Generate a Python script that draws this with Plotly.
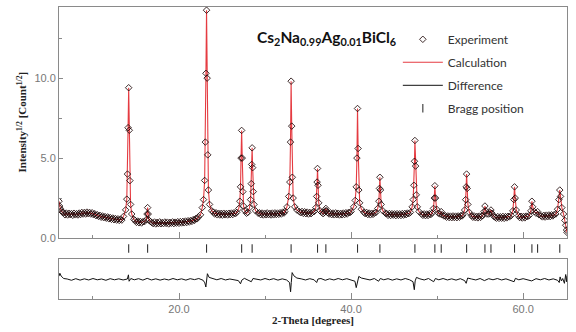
import plotly.graph_objects as go

# ---------------- data ----------------
# 2-theta positions (degrees) of the observed / calculated profile
two_theta = [
    6.05, 6.12, 6.2, 6.3, 6.45,
    6.6, 6.75, 6.9, 7.05, 7.2, 7.35, 7.5, 7.65, 7.8, 7.95,
    8.1, 8.25, 8.4, 8.55, 8.7, 8.85, 9.0, 9.15, 9.3, 9.45,
    9.6, 9.75, 9.9, 10.05, 10.2, 10.35, 10.5, 10.65, 10.8, 10.95,
    11.1, 11.25, 11.4, 11.55, 11.7, 11.85, 12.0, 12.15, 12.3, 12.45,
    12.6, 12.75, 12.9, 13.05, 13.2, 13.35,
    13.55, 13.8, 13.93, 14.01, 14.08, 14.15, 14.22, 14.29, 14.37, 14.5, 14.75,
    14.9, 15.05, 15.2, 15.35, 15.5, 15.65, 15.8,
    16.0, 16.2, 16.28, 16.35, 16.42, 16.5, 16.7,
    16.85, 17.0, 17.15, 17.3, 17.45, 17.6, 17.75, 17.9, 18.05, 18.2,
    18.35, 18.5, 18.65, 18.8, 18.95, 19.1, 19.25, 19.4, 19.55, 19.7,
    19.85, 20.0, 20.15, 20.3, 20.45, 20.6, 20.75, 20.9, 21.05, 21.2,
    21.35, 21.5, 21.65, 21.8, 21.95, 22.1, 22.25,
    22.5, 22.7, 22.85, 22.98, 23.06, 23.13, 23.2, 23.27, 23.34, 23.42, 23.55, 23.8,
    24.0, 24.15, 24.3, 24.45, 24.6, 24.75, 24.9, 25.05, 25.2, 25.35,
    25.5, 25.65, 25.8, 25.95, 26.1, 26.25, 26.4, 26.55,
    26.7, 26.95, 27.07, 27.15, 27.21, 27.28, 27.35, 27.42, 27.5, 27.65, 27.85,
    28.0, 28.2, 28.32, 28.4, 28.45, 28.5, 28.56, 28.63, 28.72, 28.9, 29.2,
    29.35, 29.5, 29.65, 29.8, 29.95, 30.1, 30.25, 30.4, 30.55, 30.7,
    30.85, 31.0, 31.15, 31.3, 31.45, 31.6, 31.75, 31.9, 32.05, 32.2,
    32.3, 32.55, 32.75, 32.88, 32.96, 33.03, 33.1, 33.17, 33.27, 33.45, 33.7, 34.0,
    34.15, 34.3, 34.45, 34.6, 34.75, 34.9, 35.05, 35.2, 35.35, 35.5,
    35.7, 35.9, 36.0, 36.05, 36.1, 36.16, 36.24, 36.4, 36.6, 36.75,
    36.9, 37.0, 37.07, 37.15, 37.3,
    37.45, 37.6, 37.75, 37.9, 38.05, 38.2, 38.35, 38.5, 38.65, 38.8,
    38.95, 39.1, 39.25, 39.4, 39.55, 39.7, 39.85,
    40.0, 40.3, 40.48, 40.6, 40.68, 40.75, 40.82, 40.9, 41.0, 41.2, 41.5,
    41.65, 41.8, 41.95, 42.1, 42.25, 42.4, 42.55, 42.7,
    42.9, 43.1, 43.23, 43.3, 43.35, 43.42, 43.5, 43.7, 44.0,
    44.15, 44.3, 44.45, 44.6, 44.75, 44.9, 45.05, 45.2, 45.35, 45.5,
    45.65, 45.8, 45.95, 46.1, 46.25, 46.4, 46.55, 46.7,
    46.9, 47.1, 47.22, 47.3, 47.37, 47.42, 47.5, 47.58, 47.7, 47.9, 48.2,
    48.35, 48.5, 48.65, 48.8, 48.95, 49.1, 49.25,
    49.4, 49.58, 49.67, 49.74, 49.82, 49.95, 50.15,
    50.35, 50.48, 50.6, 50.8,
    50.95, 51.1, 51.25, 51.4, 51.55, 51.7, 51.85, 52.0, 52.15, 52.3,
    52.45, 52.6, 52.75, 52.9,
    53.0, 53.2, 53.32, 53.38, 53.43, 53.5, 53.58, 53.75, 54.0,
    54.15, 54.3, 54.45, 54.6, 54.75, 54.9, 55.05, 55.2,
    55.3, 55.45, 55.56, 55.66, 55.8, 56.0,
    56.15, 56.26, 56.38, 56.6,
    56.75, 56.9, 57.05, 57.2, 57.35, 57.5, 57.65, 57.8, 57.95, 58.1,
    58.25, 58.4,
    58.6, 58.8, 58.92, 59.0, 59.08, 59.2, 59.45,
    59.6, 59.75, 59.9, 60.05, 60.2, 60.35, 60.5,
    60.7, 60.9, 61.02, 61.12, 61.3, 61.5, 61.68, 61.85, 62.1,
    62.25, 62.4, 62.55, 62.7, 62.85, 63.0, 63.15, 63.3, 63.45, 63.6,
    63.8, 64.0, 64.15, 64.26, 64.35, 64.5, 64.7, 64.85, 64.95, 65.05, 65.1,
]
# Intensity^(1/2) values at those positions
sqrt_intensity = [
    2.3, 2.0, 1.85, 1.7, 1.62,
    1.58, 1.45, 1.56, 1.44, 1.55, 1.46, 1.53, 1.42, 1.55, 1.45,
    1.52, 1.44, 1.56, 1.47, 1.6, 1.5, 1.6, 1.5, 1.62, 1.52,
    1.6, 1.5, 1.58, 1.46, 1.52, 1.4, 1.46, 1.35, 1.42, 1.3,
    1.38, 1.27, 1.34, 1.24, 1.32, 1.2, 1.28, 1.17, 1.25, 1.14,
    1.22, 1.12, 1.2, 1.1, 1.18, 1.12,
    1.35, 1.76, 2.43, 4.0, 6.9, 9.4, 6.74, 3.59, 2.1, 1.5, 1.17,
    1.1, 0.98, 1.06, 0.95, 1.04, 0.94, 1.02,
    1.03, 1.15, 1.5, 1.9, 1.5, 1.12, 1.02,
    0.96, 0.9, 1.0, 0.88, 0.98, 0.9, 1.01, 0.89, 0.97, 0.9,
    1.0, 0.91, 0.99, 0.88, 0.98, 0.92, 1.01, 0.9, 0.99, 0.93,
    1.02, 0.92, 1.03, 0.94, 1.04, 0.95, 1.06, 0.97, 1.08, 1.0,
    1.1, 1.04, 1.15, 1.1, 1.22, 1.2, 1.32,
    1.45, 1.9, 2.4, 3.6, 6.0, 10.3, 14.25, 10.0, 5.2, 3.0, 2.1, 1.7,
    1.62, 1.5, 1.58, 1.45, 1.55, 1.44, 1.54, 1.43, 1.55, 1.45,
    1.53, 1.44, 1.55, 1.46, 1.56, 1.47, 1.58, 1.52,
    1.6, 1.85, 2.3, 3.2, 5.0, 6.73, 5.0, 2.9, 2.0, 1.7, 1.55,
    1.6, 1.9, 2.4, 3.4, 4.6, 5.64, 4.4, 2.9, 2.1, 1.7, 1.55,
    1.58, 1.46, 1.56, 1.44, 1.55, 1.45, 1.57, 1.46, 1.55, 1.44,
    1.56, 1.45, 1.57, 1.47, 1.56, 1.48, 1.58, 1.5, 1.62, 1.56,
    1.65, 1.95, 2.6, 3.5, 6.0, 9.81, 7.0, 3.8, 2.5, 1.95, 1.75, 1.65,
    1.58, 1.66, 1.54, 1.64, 1.52, 1.62, 1.5, 1.6, 1.52, 1.6,
    1.65, 1.9, 2.6, 3.5, 4.35, 3.3, 2.2, 1.7, 1.6, 1.52,
    1.6, 1.7, 1.85, 1.7, 1.58,
    1.5, 1.58, 1.46, 1.56, 1.45, 1.57, 1.46, 1.55, 1.44, 1.54,
    1.45, 1.56, 1.47, 1.58, 1.5, 1.6, 1.58,
    1.65, 1.95, 2.35, 3.2, 5.0, 8.1, 5.6, 3.0, 2.2, 1.8, 1.6,
    1.52, 1.6, 1.47, 1.56, 1.45, 1.55, 1.48, 1.56,
    1.6, 1.85, 2.3, 3.1, 3.8, 3.0, 2.1, 1.7, 1.55,
    1.52, 1.42, 1.53, 1.41, 1.52, 1.43, 1.51, 1.4, 1.52, 1.42,
    1.51, 1.41, 1.53, 1.43, 1.54, 1.46, 1.56, 1.52,
    1.6, 1.95, 2.4, 3.3, 4.8, 6.1, 4.5, 2.7, 1.95, 1.65, 1.5,
    1.42, 1.51, 1.4, 1.5, 1.41, 1.52, 1.46,
    1.55, 1.85, 2.5, 3.27, 2.5, 1.8, 1.55,
    1.5, 1.65, 1.45, 1.38,
    1.4, 1.3, 1.38, 1.28, 1.37, 1.27, 1.38, 1.28, 1.37, 1.27,
    1.38, 1.3, 1.4, 1.38,
    1.45, 1.75, 2.4, 3.2, 4.0, 3.1, 2.1, 1.6, 1.4,
    1.3, 1.38, 1.27, 1.36, 1.26, 1.37, 1.29, 1.38,
    1.4, 1.65, 2.0, 1.7, 1.5, 1.5,
    1.6, 1.75, 1.55, 1.35,
    1.3, 1.24, 1.34, 1.23, 1.33, 1.24, 1.35, 1.23, 1.34, 1.26,
    1.36, 1.32,
    1.4, 1.7, 2.4, 3.2, 2.5, 1.75, 1.4,
    1.28, 1.36, 1.25, 1.35, 1.26, 1.37, 1.33,
    1.4, 1.7, 2.3, 1.95, 1.65, 1.55, 1.65, 1.45, 1.38,
    1.32, 1.42, 1.31, 1.43, 1.33, 1.44, 1.34, 1.45, 1.38, 1.46,
    1.5, 1.8, 2.4, 3.0, 2.6, 1.9, 1.5, 1.1, 0.8, 0.5, 0.35,
]

# difference curve (obs - calc)
diff_theta = [
    6.05, 6.15, 6.3, 6.6, 7.0, 7.5, 8.0, 8.5, 9.0, 9.5, 10.0, 10.5, 11.0, 11.5,
    12.0, 12.5, 13.0, 13.5, 14.0, 14.12, 14.2, 14.4, 14.8, 15.3, 15.8, 16.3, 16.8, 17.3,
    17.8, 18.3, 18.8, 19.3, 19.8, 20.3, 20.8, 21.3, 21.8, 22.3, 22.8, 23.0, 23.12, 23.2,
    23.3, 23.5, 23.9, 24.4, 24.9, 25.4, 25.9, 26.4, 26.9, 27.15, 27.3, 27.6, 28.0, 28.4,
    28.6, 29.0, 29.5, 30.0, 30.5, 31.0, 31.5, 32.0, 32.5, 32.85, 32.97, 33.05, 33.15, 33.35,
    33.7, 34.2, 34.7, 35.2, 35.7, 36.0, 36.15, 36.5, 37.0, 37.5, 38.0, 38.5, 39.0, 39.5,
    40.0, 40.45, 40.6, 40.75, 40.9, 41.2, 41.7, 42.2, 42.7, 43.2, 43.4, 43.8, 44.3, 44.8,
    45.3, 45.8, 46.3, 46.8, 47.2, 47.35, 47.45, 47.6, 48.0, 48.5, 49.0, 49.6, 49.8, 50.2,
    50.7, 51.2, 51.7, 52.2, 52.7, 53.2, 53.38, 53.55, 54.0, 54.5, 55.0, 55.5, 56.0, 56.5,
    57.0, 57.5, 58.0, 58.5, 58.95, 59.1, 59.5, 60.0, 60.5, 61.0, 61.5, 62.0, 62.5, 63.0,
    63.5, 64.0, 64.2, 64.3, 64.45, 64.6, 64.8, 64.95, 65.05, 65.1,
]
diff_values = [
    0.2, 0.38, 0.2, 0.05, 0.02, -0.06, 0.04, -0.05, 0.03, -0.04, 0.05, -0.03, 0.02, -0.06,
    0.04, -0.03, 0.03, -0.04, 0.02, 0.28, -0.12, 0.05, -0.03, 0.04, -0.05, 0.06, -0.04, 0.03,
    -0.05, 0.02, -0.04, 0.05, -0.03, 0.03, -0.05, 0.04, -0.02, 0.05, -0.06, -0.22, -0.48, -0.15,
    0.35, 0.12, 0.04, -0.03, 0.05, -0.04, 0.02, -0.05, -0.08, -0.28, -0.05, 0.06, -0.02, -0.15,
    0.05, 0.03, -0.04, 0.05, -0.03, 0.04, -0.05, 0.03, -0.04, -0.2, -0.78, -0.2, 0.42, 0.22,
    0.08, 0.03, -0.04, 0.04, -0.03, -0.2, 0.02, 0.05, -0.06, 0.03, -0.04, 0.05, -0.03, 0.04,
    -0.05, -0.12, -0.52, -0.2, 0.18, 0.08, 0.02, -0.04, 0.05, -0.12, 0.05, -0.03, 0.04, -0.05,
    0.03, -0.04, 0.05, -0.03, -0.15, -0.65, -0.1, 0.12, 0.03, -0.04, 0.05, -0.15, 0.05, -0.03,
    0.05, -0.04, 0.03, -0.05, 0.04, -0.08, -0.25, 0.08, 0.02, -0.04, 0.05, -0.08, 0.04, -0.03,
    0.05, -0.04, 0.03, -0.05, -0.15, 0.06, -0.03, 0.04, -0.05, -0.1, 0.04, -0.03, 0.05, -0.04,
    0.03, -0.06, -0.2, 0.15, -0.1, 0.05, -0.25, 0.3, -0.15, 0.2,
]

# Bragg reflection positions (degrees)
bragg_positions = [14.15, 16.35, 23.2, 27.28, 28.5, 33.03, 36.1, 37.07, 40.75, 43.35,
                   47.42, 49.74, 50.48, 53.43, 55.56, 56.26, 59.0, 61.02, 61.68, 64.26]

x_tick_vals = [20, 40, 60]
x_tick_text = ["20.0", "40.0", "60.0"]
x_minor_vals = [10, 30, 50]
y_tick_vals = [0, 5, 10]
y_tick_text = ["0.0", "5.0", "10.0"]
y_minor_vals = [2.5, 7.5, 12.5]

assert len(two_theta) == len(sqrt_intensity), (len(two_theta), len(sqrt_intensity))
assert len(diff_theta) == len(diff_values), (len(diff_theta), len(diff_values))

# ---------------- figure ----------------
AX = "#8a8a8a"
TICKFONT = dict(family="Liberation Sans, Arial, sans-serif", size=11, color="#777777")

fig = go.Figure()

fig.add_trace(go.Scatter(
    x=two_theta, y=sqrt_intensity, mode="lines", name="Calculation",
    line=dict(color="rgba(226,38,44,0.9)", width=1.1),
    legendgroup="calc", legendrank=2, xaxis="x", yaxis="y"))

fig.add_trace(go.Scatter(
    x=two_theta, y=sqrt_intensity, mode="markers", name="Experiment",
    marker=dict(symbol="diamond-open", size=5, color="rgba(30,8,8,0.85)",
                line=dict(width=1)),
    legendgroup="exp", legendrank=1, xaxis="x", yaxis="y"))

fig.add_trace(go.Scatter(
    x=diff_theta, y=diff_values, mode="lines", name="Difference",
    line=dict(color="#111111", width=1),
    legendgroup="diff", legendrank=3, xaxis="x2", yaxis="y2"))

fig.add_trace(go.Scatter(
    x=bragg_positions, y=[0.5] * len(bragg_positions), mode="markers",
    name="Bragg position",
    marker=dict(symbol="line-ns", size=6, line=dict(width=1.1, color="#333333"),
                color="#333333"),
    legendgroup="bragg", legendrank=4, xaxis="x", yaxis="y3"))

fig.update_layout(
    width=576, height=332,
    margin=dict(l=59, r=9, t=7, b=33),
    plot_bgcolor="white", paper_bgcolor="white",
    showlegend=True,
    legend=dict(x=0.667, y=0.939, xanchor="left", yanchor="top",
                font=dict(family="Lato, Carlito, sans-serif", size=12, color="#333333"),
                bgcolor="rgba(255,255,255,0)", tracegroupgap=4, itemwidth=40),
    xaxis=dict(domain=[0, 1], range=[6.05, 65.1], anchor="y",
               showticklabels=False, tickmode="array", tickvals=x_tick_vals,
               ticks="inside", ticklen=6, tickcolor=AX, tickwidth=1,
               minor=dict(tickmode="array", tickvals=x_minor_vals, ticks="inside",
                          ticklen=3, tickcolor=AX, showgrid=False),
               showline=True, mirror=True, linecolor=AX, linewidth=1,
               showgrid=False, zeroline=False),
    yaxis=dict(domain=[0.2089, 1], range=[0, 14.45], anchor="x",
               tickmode="array", tickvals=y_tick_vals, ticktext=y_tick_text,
               ticks="inside", ticklen=4, tickcolor=AX, tickfont=TICKFONT,
               minor=dict(tickmode="array", tickvals=y_minor_vals, ticks="inside",
                          ticklen=3, tickcolor=AX, showgrid=False),
               showline=True, mirror=True, linecolor=AX, linewidth=1,
               showgrid=False, zeroline=False),
    xaxis2=dict(domain=[0, 1], range=[6.05, 65.1], anchor="y2",
                tickmode="array", tickvals=x_tick_vals, ticktext=x_tick_text,
                ticks="inside", ticklen=6, tickcolor=AX, tickfont=TICKFONT,
                minor=dict(tickmode="array", tickvals=x_minor_vals, ticks="inside",
                           ticklen=3, tickcolor=AX, showgrid=False),
                showline=True, mirror=True, linecolor=AX, linewidth=1,
                showgrid=False, zeroline=False),
    yaxis2=dict(domain=[0, 0.137], range=[-1.23, 1.27], anchor="x2",
                showticklabels=False, ticks="",
                showline=True, mirror=True, linecolor=AX, linewidth=1,
                showgrid=False, zeroline=False),
    yaxis3=dict(domain=[0.137, 0.2089], range=[0, 1], anchor="x", visible=False,
                showgrid=False, zeroline=False),
    annotations=[
        dict(text="<b>Intensity<sup>1/2</sup> [Count<sup>1/2</sup>]</b>",
             xref="paper", yref="paper", x=-0.0728, y=0.6045, textangle=-90,
             showarrow=False, xanchor="center", yanchor="middle",
             font=dict(family="Liberation Serif, Times New Roman, serif", size=11,
                       color="#222222")),
        dict(text="<b>2-Theta [degrees]</b>",
             xref="paper", yref="paper", x=0.5, y=-0.0719,
             showarrow=False, xanchor="center", yanchor="middle",
             font=dict(family="Liberation Serif, Times New Roman, serif", size=11,
                       color="#222222")),
        dict(text="<b>Cs<sub>2</sub>Na<sub>0.99</sub>Ag<sub>0.01</sub>BiCl<sub>6</sub></b>",
             xref="paper", yref="paper", x=0.5256, y=0.893,
             showarrow=False, xanchor="center", yanchor="middle",
             font=dict(family="Lato, Carlito, sans-serif", size=15.5, color="#111111")),
    ],
)

fig.write_html("out.html")
